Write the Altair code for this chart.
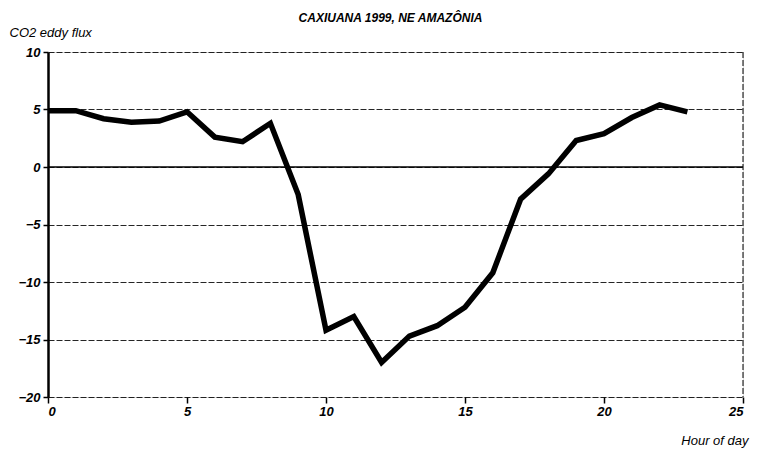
import altair as alt
import pandas as pd

hours = list(range(24))
flux = [4.9, 4.9, 4.2, 3.9, 4.0, 4.8, 2.6, 2.2, 3.8, -2.4, -14.2, -13.0, -17.0,
        -14.7, -13.8, -12.2, -9.2, -2.8, -0.6, 2.3, 2.9, 4.3, 5.4, 4.8]
x_ticks = [0, 5, 10, 15, 20, 25]
y_ticks = [10, 5, 0, -5, -10, -15, -20]

df = pd.DataFrame({"hour": hours, "flux": flux})
zero = pd.DataFrame({"y": [0]})
border = pd.DataFrame({"x": [25], "y": [10], "y2": [-20]})

FONT = "Liberation Sans"

xscale = alt.Scale(domain=[0, 25], nice=False, zero=False)
yscale = alt.Scale(domain=[-20, 10], nice=False, zero=False)

line = alt.Chart(df).mark_line(color="black", strokeWidth=5.5, strokeJoin="miter").encode(
    x=alt.X("hour:Q", scale=xscale,
            axis=alt.Axis(values=x_ticks, title="Hour of day", grid=False, domain=False,
                          tickColor="black", tickSize=6, tickWidth=1.5,
                          labelFont=FONT, labelFontStyle="italic", labelFontWeight="bold",
                          labelFontSize=13, labelColor="black", labelPadding=2,
                          titleFont=FONT, titleFontStyle="italic", titleFontWeight="normal",
                          titleFontSize=13, titleColor="black", titleAlign="right",
                          titleAnchor="end", titleBaseline="middle",
                          titleX=700, titleY=43)),
    y=alt.Y("flux:Q", scale=yscale,
            axis=alt.Axis(values=y_ticks, title="CO2 eddy flux", grid=True,
                          gridColor="black", gridDash=[6, 2], gridWidth=1, gridOpacity=0.85,
                          domain=True, domainColor="black", domainWidth=2.5,
                          tickColor="black", tickSize=5, tickWidth=1.5,
                          labelFont=FONT, labelFontStyle="italic", labelFontWeight="bold",
                          labelFontSize=13, labelColor="black", labelPadding=3,
                          titleFont=FONT, titleFontStyle="italic", titleFontWeight="normal",
                          titleFontSize=13, titleColor="black", titleAngle=0,
                          titleAlign="left", titleBaseline="bottom",
                          titleX=-39, titleY=-13)),
)

zline = alt.Chart(zero).mark_rule(color="black", strokeWidth=1.5).encode(
    y=alt.Y("y:Q", scale=yscale)
)

rborder = alt.Chart(border).mark_rule(color="black", strokeWidth=1, strokeDash=[6, 2]).encode(
    x=alt.X("x:Q", scale=xscale),
    y=alt.Y("y:Q", scale=yscale),
    y2="y2:Q",
)

chart = alt.layer(zline, rborder, line).properties(
    width=695,
    height=345,
    title=alt.TitleParams("CAXIUANA 1999, NE AMAZÔNIA", font=FONT, fontSize=12,
                          fontStyle="italic", fontWeight="bold", color="black",
                          anchor="middle", offset=1, dx=-5),
    autosize=alt.AutoSizeParams(type="none"),
    padding={"left": 40, "top": 44, "right": 8, "bottom": 60},
).configure_view(stroke=None).configure(background="white")

chart.save("out.html", embed_options={"renderer": "svg", "actions": False})
